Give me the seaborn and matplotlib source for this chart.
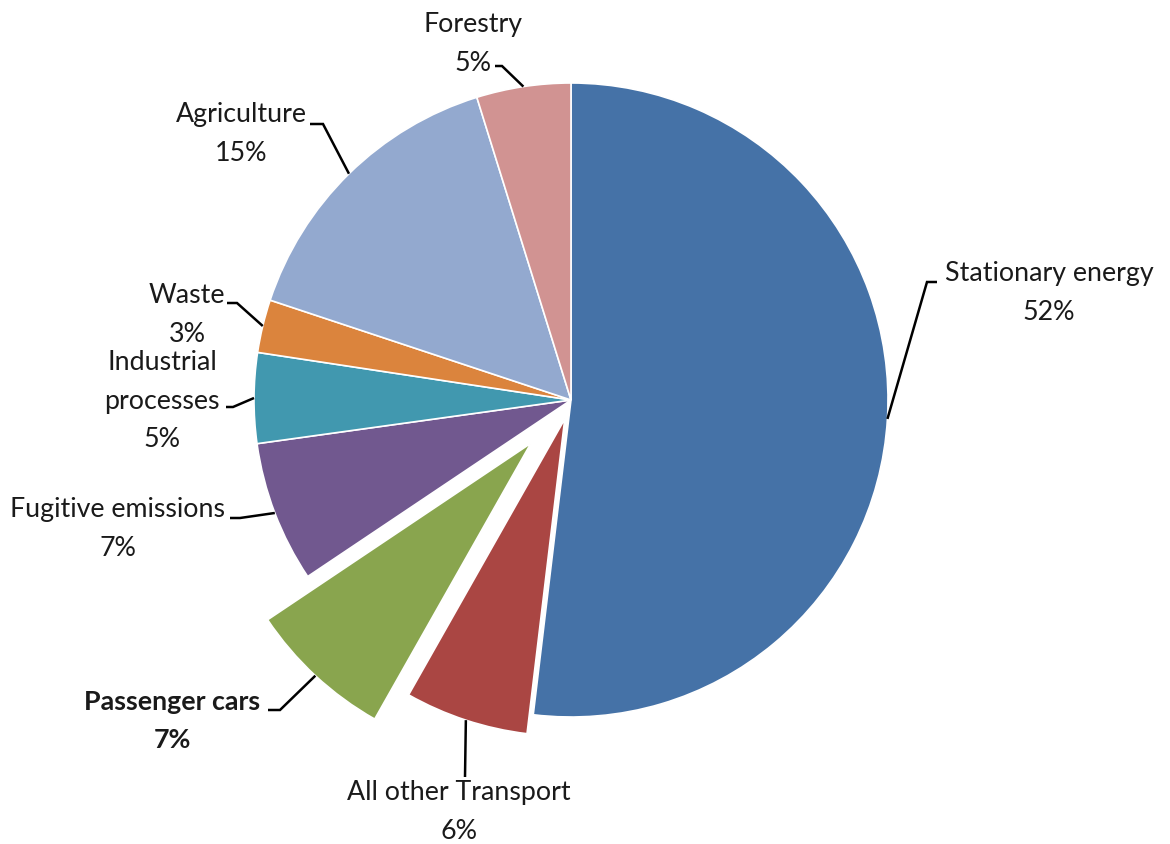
import matplotlib
matplotlib.use("Agg")
import matplotlib.pyplot as plt
import numpy as np
import seaborn as sns

# ---- data ----
categories = ["Stationary energy", "All other Transport", "Passenger cars",
              "Fugitive emissions", "Industrial\nprocesses", "Waste",
              "Agriculture", "Forestry"]
shares = [51.9, 6.3, 7.4, 7.2, 4.6, 2.7, 15.1, 4.8]
pct_labels = ["52%", "6%", "7%", "7%", "5%", "3%", "15%", "5%"]
colors = ["#4572A7", "#AA4643", "#89A54E", "#71588F",
          "#4198AF", "#DB843D", "#93A9CF", "#D19392"]
explode = [0.0, 0.063, 0.186, 0.0, 0.0, 0.0, 0.0, 0.0]

# ---- layout (pixel coordinates) ----
center = (571, 400)
radius = 317
# text centre, leader knee, leader end
label_pos = [(1049, 293), (459, 812), (172, 721), (118, 529),
             (162, 401), (187, 315), (241, 134), (473, 44)]
knees = [(927, 282), (465, 777), (280, 710), (240, 518),
         (233, 407), (237, 303), (323, 124), (502, 66)]
ends = [(937, 282), (465, 777), (268, 710), (230, 518),
        (226, 407), (227, 303), (310, 124), (495, 66)]
bold = [False, False, True, False, False, False, False, False]

sns.set_theme(style="white")
plt.rcParams['font.family'] = ['Lato', 'DejaVu Sans']

fig = plt.figure(figsize=(11.7, 8.44), dpi=100)
ax = fig.add_axes([0, 0, 1, 1])
wedges, _ = ax.pie(shares, colors=sns.color_palette(colors),
                   explode=[e * radius for e in explode],
                   startangle=-90, counterclock=True, center=center,
                   radius=radius, frame=False,
                   wedgeprops=dict(edgecolor="white", linewidth=1.2))
ax.set_xlim(0, 1170)
ax.set_ylim(844, 0)
ax.set_axis_off()

txt_color = "#1a1a1a"
for i, w in enumerate(wedges):
    mid = np.deg2rad((w.theta1 + w.theta2) / 2)
    cx, cy = w.center
    sx, sy = cx + w.r * np.cos(mid), cy + w.r * np.sin(mid)
    kx, ky = knees[i]
    ex, ey = ends[i]
    ax.plot([sx, kx, ex], [sy, ky, ey], color="black", lw=1.8,
            solid_capstyle="butt", solid_joinstyle="miter")
    lx, ly = label_pos[i]
    ax.text(lx, ly, f"{categories[i]}\n{pct_labels[i]}", ha="center",
            va="center", multialignment="center", fontsize=19.3,
            linespacing=1.68, color=txt_color,
            fontweight="bold" if bold[i] else "normal")

fig.savefig("out.png", dpi=100)
